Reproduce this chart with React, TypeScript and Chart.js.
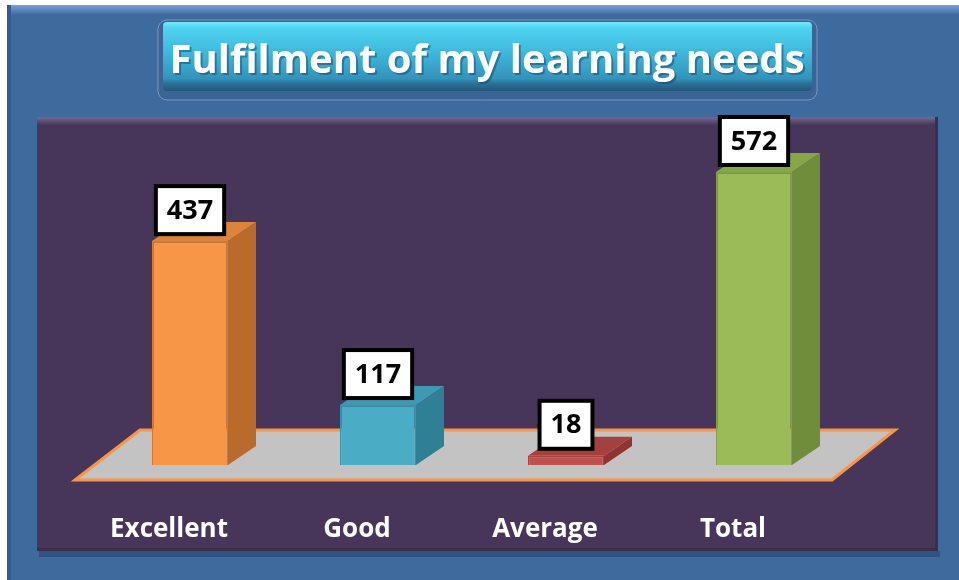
import React, { useEffect, useRef } from "react";
import { Chart, registerables } from "chart.js";
Chart.register(...registerables);

const categories = ["Excellent", "Good", "Average", "Total"];
const values = [437, 117, 18, 572];
const frontColors = ["#F79646", "#4BACC6", "#C0504D", "#9BBB59"];
const sideColors = ["#B96B2B", "#2F7F95", "#8F3431", "#708D3B"];
const topColors = ["#DD843C", "#3E9AB3", "#A4403D", "#87A64B"];
const edgeColors = ["#D9782F", "#3893AC", "#A8413E", "#849F48"];
const titleText = "Fulfilment of my learning needs";
const yMax = 650;

const FONT = '"Open Sans", "DejaVu Sans", sans-serif';
const DX = 28;
const DY = -19;

const decorPlugin = {
  id: "decor",
  beforeDraw(chart: any) {
    const ctx = chart.ctx as CanvasRenderingContext2D;
    const W = chart.width;
    const H = chart.height;
    const ca = chart.chartArea;
    ctx.save();
    ctx.fillStyle = "#FFFFFF";
    ctx.fillRect(0, 0, W, H);
    ctx.fillStyle = "#3E6A9D";
    ctx.fillRect(7, 5, W - 7, H - 5);
    let g = ctx.createLinearGradient(0, 5, 0, 15);
    g.addColorStop(0, "#7AA2D6");
    g.addColorStop(1, "#3E6A9D");
    ctx.fillStyle = g;
    ctx.fillRect(7, 5, W - 7, 10);
    ctx.fillStyle = "#355E8E";
    ctx.fillRect(7, 5, 4, H - 5);

    const tx0 = 158, ty0 = 20, tx1 = 817, ty1 = 100;
    ctx.beginPath();
    ctx.roundRect(tx0, ty0, tx1 - tx0, ty1 - ty0, 9);
    ctx.fillStyle = "#3B6597";
    ctx.fill();
    ctx.strokeStyle = "#7C97BF";
    ctx.lineWidth = 1;
    ctx.stroke();
    g = ctx.createLinearGradient(0, 22, 0, 91);
    g.addColorStop(0, "#78ECFB");
    g.addColorStop(0.08, "#4FD4F1");
    g.addColorStop(0.45, "#3EB7DB");
    g.addColorStop(0.82, "#3393BA");
    g.addColorStop(0.9, "#2B6E93");
    g.addColorStop(1, "#24577D");
    ctx.fillStyle = g;
    ctx.beginPath();
    ctx.roundRect(163, 22, 812 - 163, 69, 4);
    ctx.fill();
    ctx.font = `bold 40px ${FONT}`;
    ctx.textAlign = "center";
    ctx.textBaseline = "alphabetic";
    ctx.fillStyle = "rgba(20,60,90,0.45)";
    ctx.fillText(titleText, 489, 75);
    ctx.fillStyle = "#FFFFFF";
    ctx.fillText(titleText, 487, 73);

    const px0 = 37, py0 = 117, px1 = 938, py1 = 551;
    ctx.fillStyle = "#2F5383";
    ctx.fillRect(px0 + 2, py1, px1 - px0, 6);
    ctx.fillStyle = "#47365A";
    ctx.fillRect(px0, py0, px1 - px0, py1 - py0);
    g = ctx.createLinearGradient(0, py0, 0, py0 + 8);
    g.addColorStop(0, "#7A6696");
    g.addColorStop(1, "#47365A");
    ctx.fillStyle = g;
    ctx.fillRect(px0, py0, px1 - px0, 8);
    ctx.fillStyle = "#3C2D4E";
    ctx.fillRect(px1 - 3, py0, 3, py1 - py0);
    ctx.fillRect(px0, py1 - 3, px1 - px0, 3);

    const base = ca.bottom;
    ctx.beginPath();
    ctx.moveTo(75, base + 15);
    ctx.lineTo(140, base - 35);
    ctx.lineTo(895, base - 35);
    ctx.lineTo(832, base + 15);
    ctx.closePath();
    ctx.fillStyle = "#C3C3C3";
    ctx.fill();
    ctx.strokeStyle = "#F79646";
    ctx.lineWidth = 3;
    ctx.lineJoin = "miter";
    ctx.stroke();
    ctx.restore();
  },
  afterDatasetsDraw(chart: any) {
    const ctx = chart.ctx as CanvasRenderingContext2D;
    const meta = chart.getDatasetMeta(0);
    const xScale = chart.scales.x;
    ctx.save();
    meta.data.forEach((bar: any, i: number) => {
      const p = bar.getProps(["x", "y", "base", "width"], true);
      const l = p.x - p.width / 2;
      const r = p.x + p.width / 2;
      const top = p.y;
      const bot = p.base;
      ctx.beginPath();
      ctx.moveTo(r, top);
      ctx.lineTo(r + DX, top + DY);
      ctx.lineTo(r + DX, bot + DY);
      ctx.lineTo(r, bot);
      ctx.closePath();
      ctx.fillStyle = sideColors[i];
      ctx.fill();
      ctx.beginPath();
      ctx.moveTo(l, top);
      ctx.lineTo(l + DX, top + DY);
      ctx.lineTo(r + DX, top + DY);
      ctx.lineTo(r, top);
      ctx.closePath();
      ctx.fillStyle = topColors[i];
      ctx.fill();
    });
    ctx.font = `bold 27px ${FONT}`;
    ctx.textAlign = "center";
    ctx.textBaseline = "middle";
    meta.data.forEach((bar: any, i: number) => {
      const p = bar.getProps(["x", "y"], true);
      const label = String(values[i]);
      const tw = ctx.measureText(label).width;
      const bw = tw + 22;
      const bh = 48;
      const by1 = p.y - 7;
      const by0 = by1 - bh;
      ctx.fillStyle = "#FFFFFF";
      ctx.fillRect(p.x - bw / 2, by0, bw, bh);
      ctx.strokeStyle = "#000000";
      ctx.lineWidth = 4;
      ctx.strokeRect(p.x - bw / 2, by0, bw, bh);
      ctx.fillStyle = "#000000";
      ctx.fillText(label, p.x, by0 + bh / 2 + 1);
    });
    ctx.font = `bold 26px ${FONT}`;
    ctx.fillStyle = "#FFFFFF";
    ctx.textBaseline = "middle";
    categories.forEach((c, i) => {
      const x = xScale.getPixelForValue(i) - 21;
      ctx.fillText(c, x, 530);
    });
    ctx.restore();
  },
};

export default function App() {
  const ref = useRef<HTMLCanvasElement>(null);
  useEffect(() => {
    if (!ref.current) return;
    const chart = new Chart(ref.current, {
      type: "bar",
      data: {
        labels: categories,
        datasets: [
          {
            data: values,
            backgroundColor: frontColors,
            borderColor: edgeColors,
            borderWidth: 1.5,
            categoryPercentage: 1,
            barPercentage: 76 / 188,
            clip: false as any,
          },
        ],
      },
      options: {
        responsive: false,
        animation: false,
        layout: { padding: { left: 96, right: 111, top: 132, bottom: 115 } },
        plugins: {
          legend: { display: false },
          title: { display: false },
          tooltip: { enabled: false },
        },
        scales: {
          x: { display: false, grid: { display: false } },
          y: { display: false, min: 0, max: yMax, grid: { display: false } },
        },
      },
      plugins: [decorPlugin],
    });
    return () => chart.destroy();
  }, []);
  return (
    <div style={{ position: "fixed", left: 0, top: 0, width: 959, height: 580 }}>
      <canvas ref={ref} width={959} height={580} style={{ display: "block" }} />
    </div>
  );
}
